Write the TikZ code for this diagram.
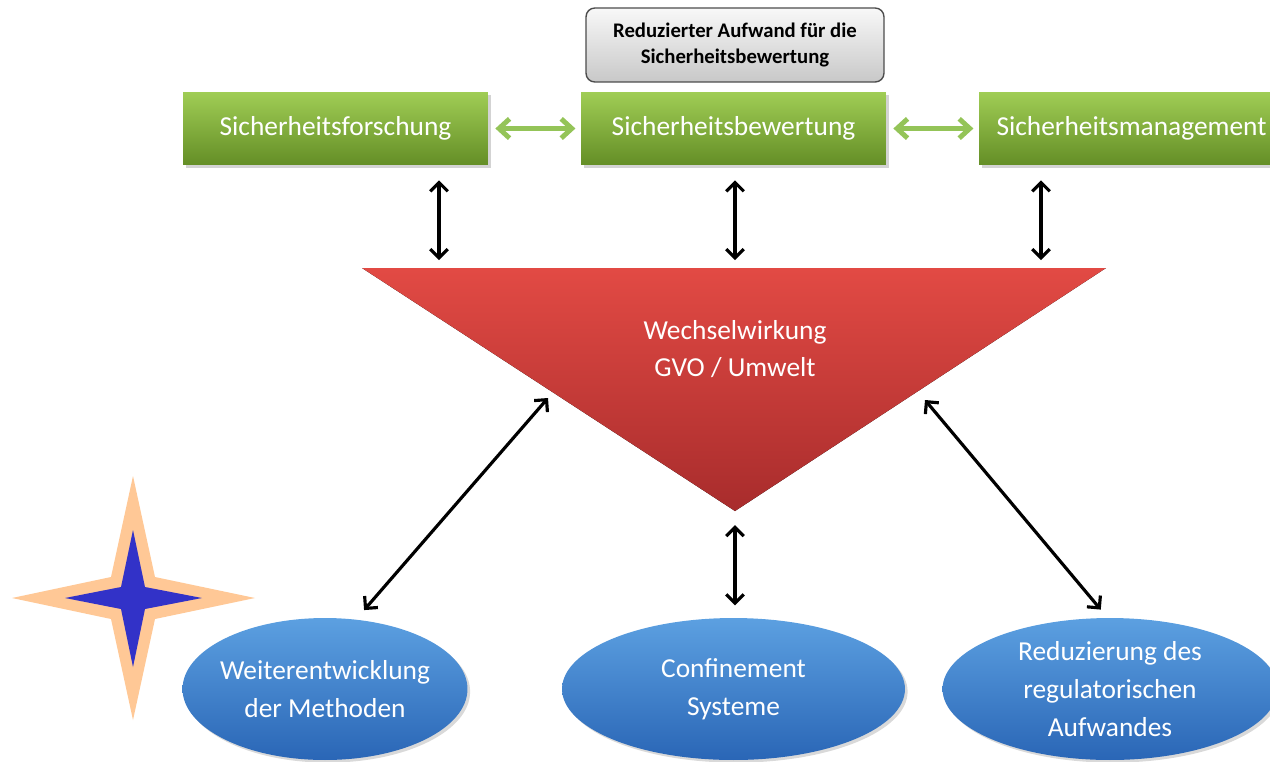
\documentclass[tikz,border=0pt]{standalone}
\usepackage{fontspec}
\setmainfont{Carlito}
\usetikzlibrary{arrows.meta,shadows,shapes.geometric}

\definecolor{grtop}{RGB}{160,205,85}
\definecolor{grbot}{RGB}{100,142,38}
\definecolor{rdtop}{RGB}{226,74,68}
\definecolor{rdbot}{RGB}{168,44,44}
\definecolor{bltop}{RGB}{92,160,225}
\definecolor{blbot}{RGB}{42,102,182}
\definecolor{gytop}{RGB}{248,248,248}
\definecolor{gybot}{RGB}{200,200,200}
\definecolor{garr}{RGB}{148,196,88}
\definecolor{peach}{RGB}{255,200,150}
\definecolor{starblue}{RGB}{50,50,200}

\begin{document}
\begin{tikzpicture}[
    x=0.02cm, y=-0.02cm,
    barrow/.style={{Straight Barb[length=5pt,width=10pt]}-{Straight Barb[length=5pt,width=10pt]}, line width=1.8pt, black},
    garrow/.style={{Straight Barb[length=6pt,width=11pt]}-{Straight Barb[length=6pt,width=11pt]}, line width=2.8pt, garr, shorten <=4pt, shorten >=3pt},
    gbox/.style={rectangle, top color=grtop, bottom color=grbot, minimum width=6.1cm, minimum height=1.46cm,
        text=white, font=\fontsize{15.6}{18}\selectfont, drop shadow={opacity=0.35, shadow xshift=1.5pt, shadow yshift=-1.5pt}},
    graybox/.style={rectangle, rounded corners=5pt, draw=black!70, line width=0.8pt, top color=gytop, bottom color=gybot,
        minimum width=5.96cm, minimum height=1.48cm, align=center, font=\bfseries\fontsize{11.8}{15.3}\selectfont},
    ell/.style={ellipse, top color=bltop, bottom color=blbot, minimum height=2.84cm, inner sep=0pt, align=center,
        text=white, font=\fontsize{15.6}{21.4}\selectfont, drop shadow={opacity=0.3, shadow xshift=1.5pt, shadow yshift=-1.5pt}},
]
\useasboundingbox (0,0) rectangle (1270,761);

% Star
\fill[peach] (133,476) -- (155,577) -- (255,598) -- (155,619) -- (133,720)
    -- (111,619) -- (12,598) -- (111,577) -- cycle;
\fill[starblue] (133,530) -- (145,587) -- (202,598) -- (145,609) -- (133,667)
    -- (121,609) -- (65,598) -- (121,587) -- cycle;

% Top boxes
\node[graybox] (aufw) at (735,45) {Reduzierter Aufwand für die\\Sicherheitsbewertung};
\node[gbox] (forsch) at (335.5,128.5) {Sicherheitsforschung};
\node[gbox] (bew) at (733.5,128.5) {Sicherheitsbewertung};
\node[gbox] (mgmt) at (1131.5,128.5) {Sicherheitsmanagement};

\draw[garrow] (forsch) -- (bew);
\draw[garrow] (bew) -- (mgmt);

% Triangle
\coordinate (tl) at (362,268);
\coordinate (tr) at (1106,268);
\coordinate (tb) at (735,511);
\fill[top color=rdtop, bottom color=rdbot] (tl) -- (tr) -- (tb) -- cycle;
\node[text=white, align=center, font=\fontsize{15.6}{21}\selectfont] (wech) at (735,349) {Wechselwirkung\\GVO / Umwelt};

\coordinate (t1) at (439,268);
\coordinate (t2) at (735,268);
\coordinate (t3) at (1041,268);
\coordinate (sl) at (548,398);
\coordinate (sr) at (925,400);

\draw[barrow, shorten <=8.5pt, shorten >=4.5pt] (forsch.south -| t1) -- (t1);
\draw[barrow, shorten <=8.5pt, shorten >=4.5pt] (bew.south -| t2) -- (t2);
\draw[barrow, shorten <=8.5pt, shorten >=4.5pt] (mgmt.south -| t3) -- (t3);

% Bottom ellipses
\node[ell, minimum width=5.7cm, inner xsep=-4pt] (meth) at (325,689) {Weiterentwicklung\\der Methoden};
\node[ell, minimum width=6.86cm] (conf) at (733.5,689) {Confinement\\Systeme};
\node[ell, minimum width=6.7cm] (reg) at (1110,689) {Reduzierung des\\regulatorischen\\Aufwandes};

\draw[barrow, shorten >=7pt] (sl) -- (meth.66);
\draw[barrow, shorten <=8pt, shorten >=7pt] (tb) -- (conf.north -| tb);
\draw[barrow, shorten >=6pt] (sr) -- (reg.92);

\end{tikzpicture}
\end{document}
